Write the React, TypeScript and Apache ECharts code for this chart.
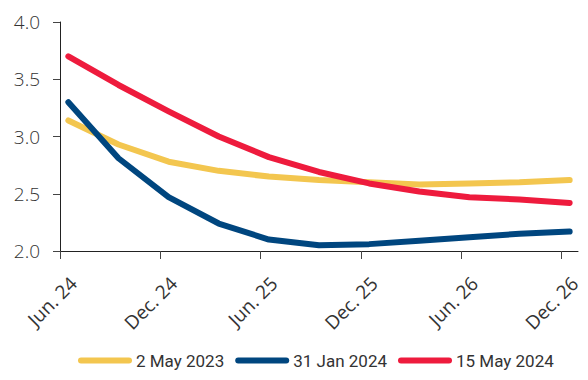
import React, { useEffect, useRef } from "react";
import * as echarts from "echarts";

const quarters = ["Jun 24", "Sep 24", "Dec 24", "Mar 25", "Jun 25", "Sep 25", "Dec 25", "Mar 26", "Jun 26", "Sep 26", "Dec 26"];
const tickLabels = ["Jun. 24", "Dec. 24", "Jun. 25", "Dec. 25", "Jun. 26", "Dec. 26"];
const may2023 = [3.14, 2.93, 2.78, 2.70, 2.65, 2.62, 2.60, 2.58, 2.59, 2.60, 2.62];
const jan2024 = [3.30, 2.81, 2.47, 2.24, 2.10, 2.05, 2.06, 2.09, 2.12, 2.15, 2.17];
const may2024 = [3.70, 3.45, 3.22, 3.00, 2.82, 2.69, 2.59, 2.52, 2.47, 2.45, 2.42];
const seriesNames = ["2 May 2023", "31 Jan 2024", "15 May 2024"];
const colors = ["#F3C64F", "#00467F", "#EE1B3D"];

// month offset from Jun 24 (mid-month) for each quarter
const monthPos = quarters.map((_, i) => i * 3 + 0.5);
const tickPos = tickLabels.map((_, i) => i * 6);
const labelPos = tickLabels.map((_, i) => i * 6 + 0.8);

const capsule = "path://M3,0 L51,0 A3,3 0 0 1 51,6 L3,6 A3,3 0 0 1 3,0 Z";

export default function App() {
  const ref = useRef<HTMLDivElement>(null);
  useEffect(() => {
    const chart = echarts.init(ref.current!, null, { renderer: "svg" });
    const mk = (vals: number[]) => vals.map((v, i) => [monthPos[i], v]);
    chart.setOption({
      animation: false,
      grid: { left: 60, right: 10, top: 22, bottom: 129, containLabel: false },
      legend: {
        left: 73,
        top: 347,
        width: 520,
        itemWidth: 54,
        itemHeight: 6,
        itemGap: 11,
        icon: capsule,
        textStyle: { fontFamily: "Roboto", fontSize: 17, color: "#333", padding: [0, 0, 0, -1] },
        data: seriesNames,
      },
      xAxis: {
        type: "value",
        min: 0,
        max: 31,
        axisLine: { show: true, lineStyle: { color: "#222", width: 1 } },
        axisTick: { show: true, length: 8, customValues: tickPos, lineStyle: { color: "#444" } },
        splitLine: { show: false },
        axisLabel: {
          customValues: labelPos,
          rotate: 45,
          margin: 29,
          fontFamily: "Open Sans",
          fontSize: 19,
          color: "#333",
          formatter: (v: number) => {
            const idx = labelPos.findIndex((p) => Math.abs(p - v) < 0.01);
            return idx >= 0 ? tickLabels[idx] : "";
          },
        },
      },
      yAxis: {
        type: "value",
        min: 2,
        max: 4,
        interval: 0.5,
        axisLine: { show: true, lineStyle: { color: "#222", width: 1 } },
        axisTick: { show: true, length: 7, lineStyle: { color: "#444" } },
        splitLine: { show: false },
        axisLabel: {
          margin: 20,
          fontFamily: "Open Sans",
          fontWeight: 300,
          fontSize: 19,
          color: "#333",
          formatter: (v: number) => v.toFixed(1),
        },
      },
      series: [may2023, jan2024, may2024].map((vals, i) => ({
        name: seriesNames[i],
        type: "line",
        data: mk(vals),
        showSymbol: false,
        symbol: "none",
        color: colors[i],
        lineStyle: { width: 6, color: colors[i], cap: "round", join: "round" },
      })),
    });
    return () => chart.dispose();
  }, []);
  return <div ref={ref} style={{ width: 588, height: 380, position: "absolute", left: 0, top: 0 }} />;
}
